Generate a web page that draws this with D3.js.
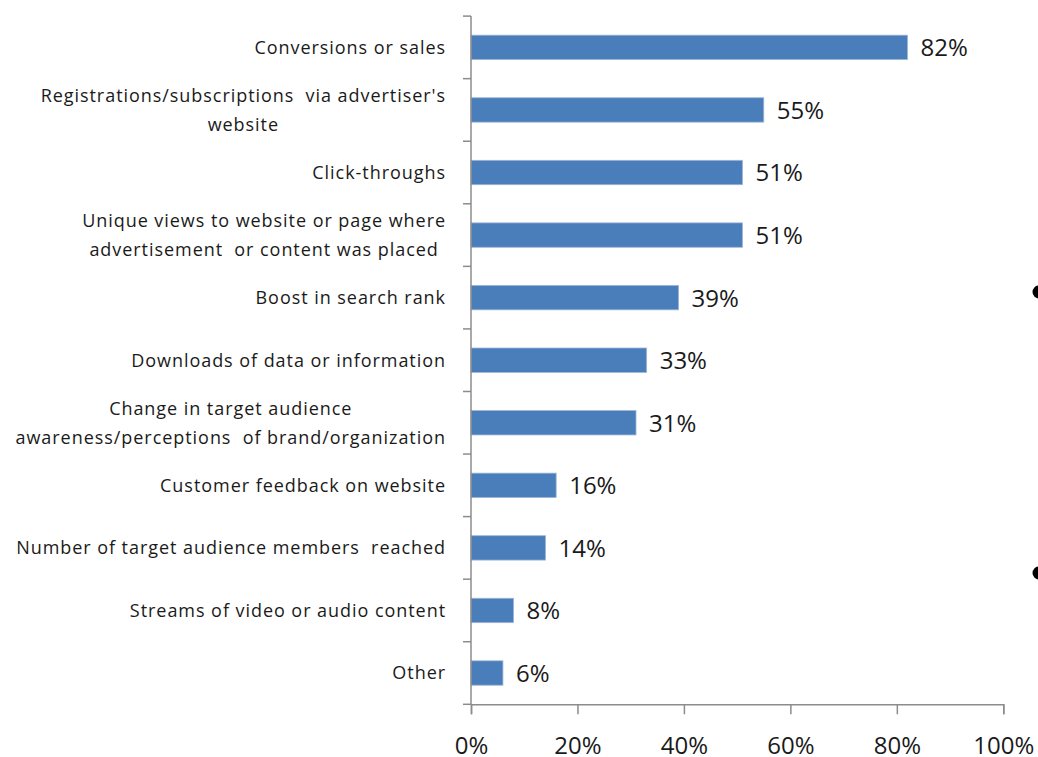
<!DOCTYPE html>
<html>
<head>
<meta charset="utf-8">
<script src="https://cdn.jsdelivr.net/npm/d3@7"></script>
<style>
  html, body { margin: 0; padding: 0; background: #fff; }
  svg { display: block; }
  text { font-family: "Open Sans", Lato, sans-serif; fill: #1a1a1a; white-space: pre; }
</style>
</head>
<body>
<svg id="chart" width="1038" height="757"></svg>
<script>
// Survey responses: how success of the placement is measured
const categories = [
  ["Conversions or sales"],
  ["Registrations/subscriptions  via advertiser's", "website"],
  ["Click-throughs"],
  ["Unique views to website or page where", "advertisement  or content was placed"],
  ["Boost in search rank"],
  ["Downloads of data or information"],
  ["Change in target audience", "awareness/perceptions  of brand/organization"],
  ["Customer feedback on website"],
  ["Number of target audience members  reached"],
  ["Streams of video or audio content"],
  ["Other"]
];
const values = [82, 55, 51, 51, 39, 33, 31, 16, 14, 8, 6];
const xTicks = [0, 20, 40, 60, 80, 100];
const bulletRows = [292, 573];

const svg = d3.select("#chart");
const plotLeft = 471, plotRight = 1003.3, plotTop = 16.1, plotBottom = 704.3;

const x = d3.scaleLinear().domain([0, 100]).range([plotLeft, plotRight]);
const y = d3.scaleBand().domain(d3.range(categories.length)).range([plotTop, plotBottom]).paddingInner(0.61).paddingOuter(0.305);

const axisColor = "#8c8c8c";

// bars
svg.append("g").selectAll("rect")
  .data(values)
  .join("rect")
  .attr("x", x(0))
  .attr("y", (d, i) => y(i))
  .attr("width", d => x(d) - x(0))
  .attr("height", y.bandwidth())
  .attr("fill", "#4a7ebb")
  .attr("stroke", "#9fb6d6")
  .attr("stroke-width", 0.8);

// value labels
svg.append("g").selectAll("text")
  .data(values)
  .join("text")
  .attr("x", d => x(d) + 13)
  .attr("y", (d, i) => y(i) + y.bandwidth() / 2)
  .attr("dy", "0.37em")
  .attr("font-size", 24)
  .text(d => d + "%");

// vertical category axis with tick marks at band boundaries
const yAxis = svg.append("g");
yAxis.append("line")
  .attr("x1", plotLeft).attr("x2", plotLeft).attr("y1", plotTop).attr("y2", plotBottom)
  .attr("stroke", axisColor).attr("stroke-width", 1.5);
yAxis.selectAll("line.tick")
  .data(d3.range(categories.length + 1))
  .join("line")
  .attr("class", "tick")
  .attr("x1", plotLeft - 8).attr("x2", plotLeft)
  .attr("y1", i => plotTop + i * y.step())
  .attr("y2", i => plotTop + i * y.step())
  .attr("stroke", axisColor).attr("stroke-width", 1.5);

// category labels: block right-aligned, lines centred on each other
const labelRight = 446;
const labels = svg.append("g");
categories.forEach((lines, i) => {
  const cy = y(i) + y.bandwidth() / 2;
  const g = labels.append("g");
  const lh = 29;
  const texts = lines.map((t, j) => g.append("text")
    .attr("font-size", 18)
    .attr("letter-spacing", 0.95)
    .attr("y", cy + (j - (lines.length - 1) / 2) * lh)
    .attr("dy", "0.36em")
    .text(t));
  const w = d3.max(texts, t => t.node().getComputedTextLength());
  texts.forEach(t => t.attr("text-anchor", "middle").attr("x", labelRight - w / 2));
});

// horizontal value axis
const xAxis = svg.append("g").attr("transform", `translate(0,${plotBottom})`)
  .call(d3.axisBottom(x).tickValues(xTicks).tickSize(10).tickPadding(23).tickFormat(d => d + "%"));
xAxis.select(".domain").attr("stroke", axisColor).attr("stroke-width", 1.5);
xAxis.selectAll(".tick line").attr("stroke", axisColor).attr("stroke-width", 1.5);
xAxis.selectAll(".tick text").attr("font-size", 24).attr("font-family", "'Open Sans', Lato, sans-serif").attr("fill", "#1a1a1a");

// slide bullets at the right edge
svg.append("g").selectAll("circle")
  .data(bulletRows)
  .join("circle")
  .attr("cx", 1039).attr("cy", d => d).attr("r", 6.5).attr("fill", "#000");
</script>
</body>
</html>
